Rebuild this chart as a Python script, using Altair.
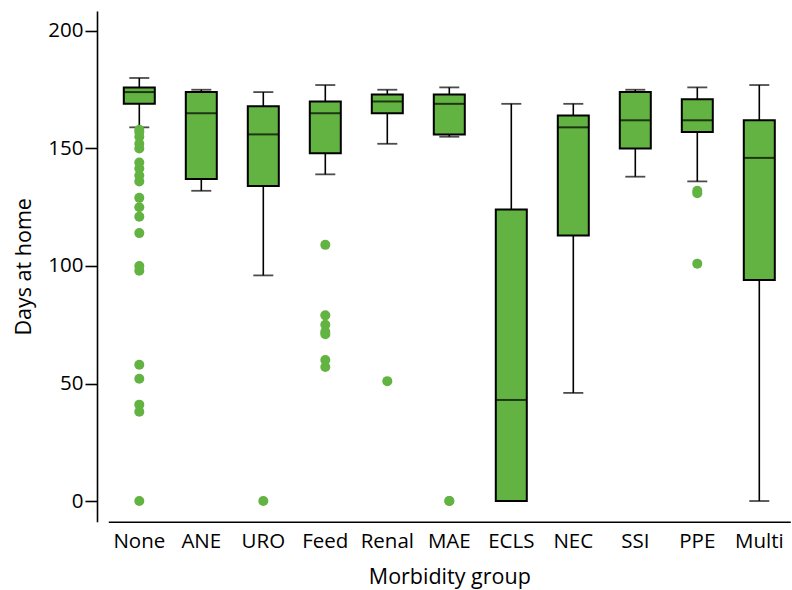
import altair as alt
import pandas as pd

cats = ["None", "ANE", "URO", "Feed", "Renal", "MAE", "ECLS", "NEC", "SSI", "PPE", "Multi"]
lo = [159, 132, 96, 139, 152, 155, 0, 46, 138, 136, 0]
q1 = [169, 137, 134, 148, 165, 156, 0, 113, 150, 157, 94]
med = [174, 165, 156, 165, 170, 169, 43, 159, 162, 162, 146]
q3 = [176, 174, 168, 170, 173, 173, 124, 164, 174, 171, 162]
hi = [180, 175, 174, 177, 175, 176, 169, 169, 175, 176, 177]

out_group = (["None"] * 20 + ["URO"] + ["Feed"] * 7 + ["Renal"] + ["MAE"] * 2 + ["PPE"] * 3)
out_value = [158, 157, 155, 152, 150, 144, 141.5, 138.5, 136, 129, 125, 121, 114, 100, 98, 58, 52, 41, 38, 0,
             0,
             109, 79, 75, 72, 71, 60, 57,
             51,
             0, 0,
             132, 131, 101]

GREEN = "#63b342"

box = pd.DataFrame({"group": cats, "lo": lo, "q1": q1, "med": med, "q3": q3, "hi": hi})
outl = pd.DataFrame({"group": out_group, "value": out_value})

xscale = alt.Scale(domain=cats, range=[11.3, 693.3], paddingInner=0, paddingOuter=0)
yscale = alt.Scale(domain=[-8.8, 208.5], nice=False, zero=False)

x = alt.X("group:N", scale=xscale, sort=cats,
          axis=alt.Axis(title="Morbidity group", ticks=False, tickSize=0, labelAngle=0,
                        labelPadding=10, titlePadding=14))
yaxis = alt.Axis(title="Days at home", values=[0, 50, 100, 150, 200], tickSize=12,
                 labelPadding=2, titlePadding=12, grid=False)

base = alt.Chart(box)

whisk = base.mark_rule(color="black", strokeWidth=1.6).encode(
    x=x, y=alt.Y("lo:Q", scale=yscale, axis=yaxis), y2="hi:Q")
bars = base.mark_bar(size=31, color=GREEN, stroke="black", strokeWidth=2).encode(
    x=x, y=alt.Y("q1:Q", scale=yscale), y2="q3:Q")
medm = base.mark_tick(size=31, thickness=2, color="black").encode(
    x=x, y=alt.Y("med:Q", scale=yscale))
caplo = base.mark_tick(size=20, thickness=1.8, color="black").encode(
    x=x, y=alt.Y("lo:Q", scale=yscale))
caphi = base.mark_tick(size=20, thickness=1.8, color="black").encode(
    x=x, y=alt.Y("hi:Q", scale=yscale))
pts = alt.Chart(outl).mark_circle(size=100, color=GREEN, opacity=1).encode(
    x=x, y=alt.Y("value:Q", scale=yscale))

chart = alt.layer(whisk, caplo, caphi, bars, medm, pts).properties(
    width=695, height=510.7,
    autosize=alt.AutoSizeParams(type="none"),
    padding={"left": 97, "top": 11, "right": 0, "bottom": 68.3},
).configure_view(stroke=None).configure_axis(
    labelFont="Open Sans", titleFont="Open Sans", labelFontSize=20.5, titleFontSize=21.5,
    titleFontWeight="normal", labelColor="black", titleColor="black",
    domainColor="black", domainWidth=1.6, tickColor="black", tickWidth=1.6,
)

chart.save("out.html", embed_options={"renderer": "svg", "actions": False})
